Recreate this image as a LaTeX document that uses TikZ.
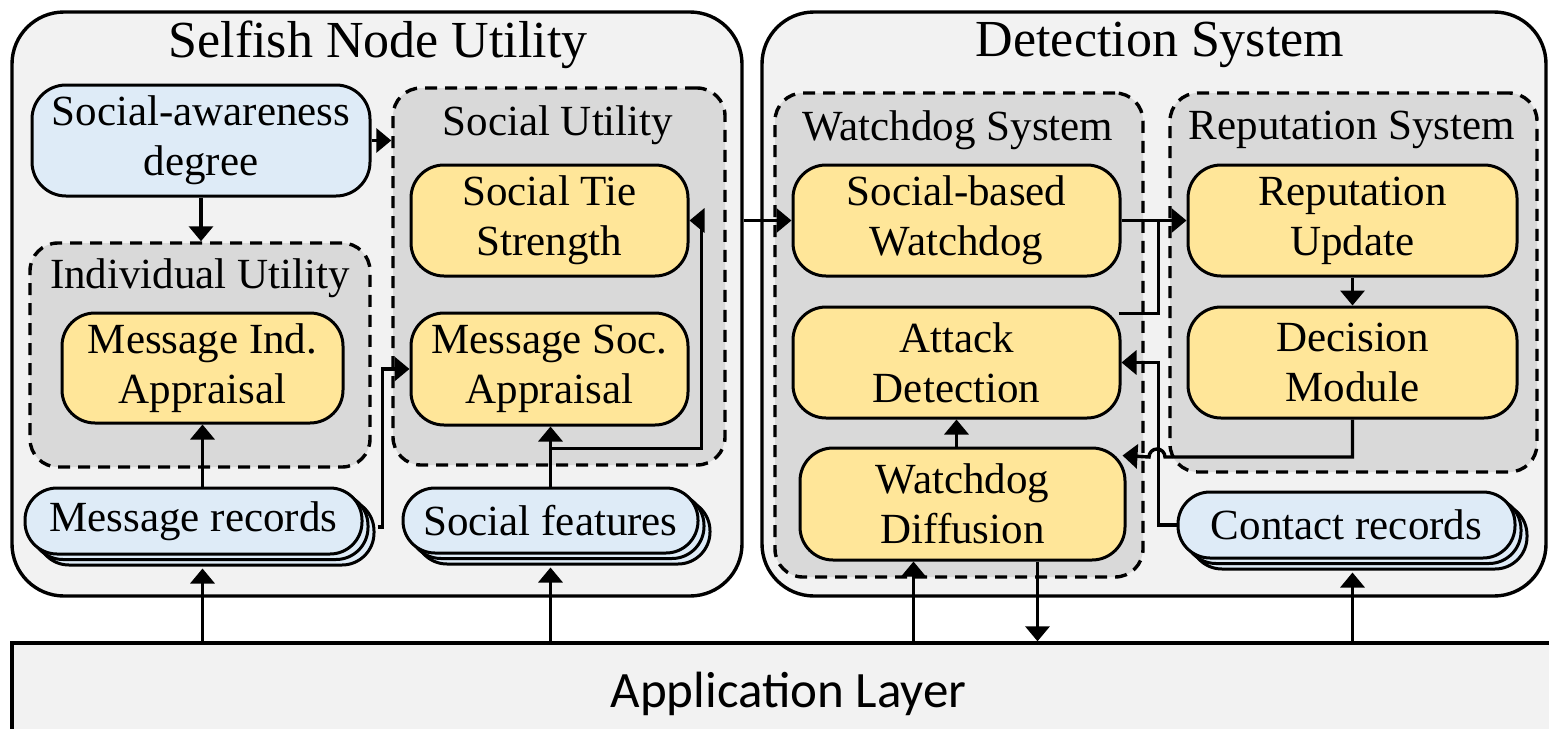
\documentclass[tikz,border=0pt]{standalone}
\usepackage{fontspec}
\setmainfont{Liberation Serif}[Ligatures=TeX]
\newfontfamily\tnr{Liberation Serif}
\newfontfamily\calib{Carlito}
\usetikzlibrary{arrows.meta,shadows,calc}
\definecolor{outerfill}{HTML}{F2F2F2}
\definecolor{grpfill}{HTML}{D9D9D9}
\definecolor{bluefill}{HTML}{DEEBF7}
\definecolor{yelfill}{HTML}{FFE699}
\begin{document}
\begin{tikzpicture}[x=1pt,y=-1pt,
 outerbox/.style={draw=black,line width=3.4pt,fill=outerfill,rounded corners=52pt,inner sep=0pt},
 grpbox/.style={draw=black,line width=3.4pt,dash pattern=on 12pt off 8pt,fill=grpfill,rounded corners=28pt,inner sep=0pt},
 yel/.style={draw=black,line width=3pt,fill=yelfill,rounded corners=33pt,align=center,font=\tnr\fontsize{43}{50}\selectfont,inner sep=0pt},
 blu/.style={draw=black,line width=3pt,fill=bluefill,align=center,font=\tnr\fontsize{43}{50}\selectfont,inner sep=0pt},
 rec/.style={blu,rounded corners=32pt,double copy shadow={shadow xshift=6pt,shadow yshift=-5.5pt}},
 ttl/.style={font=\tnr\fontsize{43}{50}\selectfont,inner sep=0pt},
 bigttl/.style={font=\tnr\fontsize{52}{60}\selectfont,inner sep=0pt},
 arr/.style={line width=3.4pt,-{Triangle[length=15pt,width=24pt]}},
 ln/.style={line width=3.4pt}]
\useasboundingbox (0,0) rectangle (1549,728);
\clip (0,0) rectangle (1549,728);
\fill[white] (0,0) rectangle (1549,728);

% outer containers
\node[outerbox,minimum width=730pt,minimum height=584pt] (snu) at (377,304) {};
\node[outerbox,minimum width=784pt,minimum height=584pt] (ds) at (1154,304) {};
\node[bigttl] (snuT) at (378,45) {Selfish Node Utility};
\node[bigttl] (dsT) at (1160,45) {Detection System};

% application layer
\node[draw=black,line width=3.4pt,fill=outerfill,minimum width=1553pt,minimum height=102pt,inner sep=0pt,font=\calib\fontsize{51}{60}\selectfont] (al) at (788.5,694) {\raisebox{5pt}{Application Layer}};

% group boxes
\node[grpbox,minimum width=332pt,minimum height=377pt] (su) at (559,276.5) {};
\node[ttl] (suT) at (558,125) {Social Utility};
\node[grpbox,minimum width=340pt,minimum height=224pt] (iu) at (200,355) {};
\node[ttl] (iuT) at (200,278) {Individual Utility};
\node[grpbox,minimum width=368pt,minimum height=484pt] (ws) at (959,335) {};
\node[ttl] (wsT) at (958,130) {Watchdog System};
\node[grpbox,minimum width=367pt,minimum height=379pt] (rs) at (1353.5,282.5) {};
\node[ttl] (rsT) at (1352,130) {Reputation System};

% left side nodes
\node[blu,rounded corners=34pt,minimum width=338pt,minimum height=111pt] (sad) at (201,140.5) {Social-awareness\\degree};
\node[yel,minimum width=281pt,minimum height=110pt] (mia) at (202.5,368) {Message Ind.\\Appraisal};
\node[yel,minimum width=277pt,minimum height=111pt] (sts) at (549.5,220.5) {Social Tie\\Strength};
\node[yel,minimum width=277pt,minimum height=112pt] (msa) at (549.5,369) {Message Soc.\\Appraisal};
\node[rec,minimum width=337pt,minimum height=66pt] (mr) at (193.5,521) {Message records};
\node[rec,minimum width=295pt,minimum height=65pt] (sf) at (550.5,520.5) {Social features};

% right side nodes
\node[yel,minimum width=327pt,minimum height=111pt] (sbw) at (956.5,220.5) {Social-based\\Watchdog};
\node[yel,minimum width=327pt,minimum height=111pt] (ad) at (956.5,362.5) {Attack\\Detection};
\node[yel,minimum width=325pt,minimum height=112pt] (wd) at (962.5,504) {Watchdog\\Diffusion};
\node[yel,minimum width=329pt,minimum height=111pt] (ru) at (1352.5,220.5) {Reputation\\Update};
\node[yel,minimum width=329pt,minimum height=111pt] (dm) at (1352.5,362.5) {Decision\\Module};
\node[rec,minimum width=337pt,minimum height=66pt] (cr) at (1346.5,525) {Contact records};

% helper coordinates
\coordinate (jn) at ($(sbw.east)+(37,0)$);
\coordinate (hop) at (1157,457);

% left connectors
\draw[arr] (sad.south) -- (sad.south |- iu.north);
\draw[arr] (sad.east) -- (su.west |- sad.east);
\draw[arr] (mia.south |- mr.north) -- (mia.south);
\draw[arr] ($(mia.south |- al.north)$) -- ($(mia.south |- mr.south)+(0,13)$);
\draw[arr] ($(mr.east)+(14,6)$) -- ++(5,0) |- (msa.west);
\draw[arr] (sf.north) -- (sf.north |- msa.south);
\draw[arr] (sf.south |- al.north) -- ($(sf.south)+(0,13)$);
\draw[arr] ($(msa.south)+(0,22)$) -| ($(sts.east)+(12,0)$) -- (sts.east);
\draw[arr] (snu.east |- sbw.west) -- (sbw.west);

% right connectors
\draw[arr] (sbw.east) -- (ru.west);
\draw[ln] ($(ad.north east)+(-3,8)$) -| (jn);
\draw[arr] (cr.west) -| (jn |- ad.east) -- (ad.east);
\draw[arr] (ru.south) -- (dm.north);
\draw[arr] (dm.south) |- ($(hop)+(8,0)$) arc[start angle=0,end angle=180,radius=8pt] -- ($(wd.north east)+(-4,9)$);
\draw[arr] (ad.south |- wd.north) -- (ad.south);
\draw[arr] ($(wd.south |- al.north)+(-49,0)$) -- ($(wd.south)+(-49,0)$);
\draw[arr] ($(wd.south)+(75,0)$) -- ($(wd.south |- al.north)+(75,0)$);
\draw[arr] ($(cr.south |- al.north)+(6,0)$) -- ($(cr.south)+(6,13)$);
\end{tikzpicture}
\end{document}
